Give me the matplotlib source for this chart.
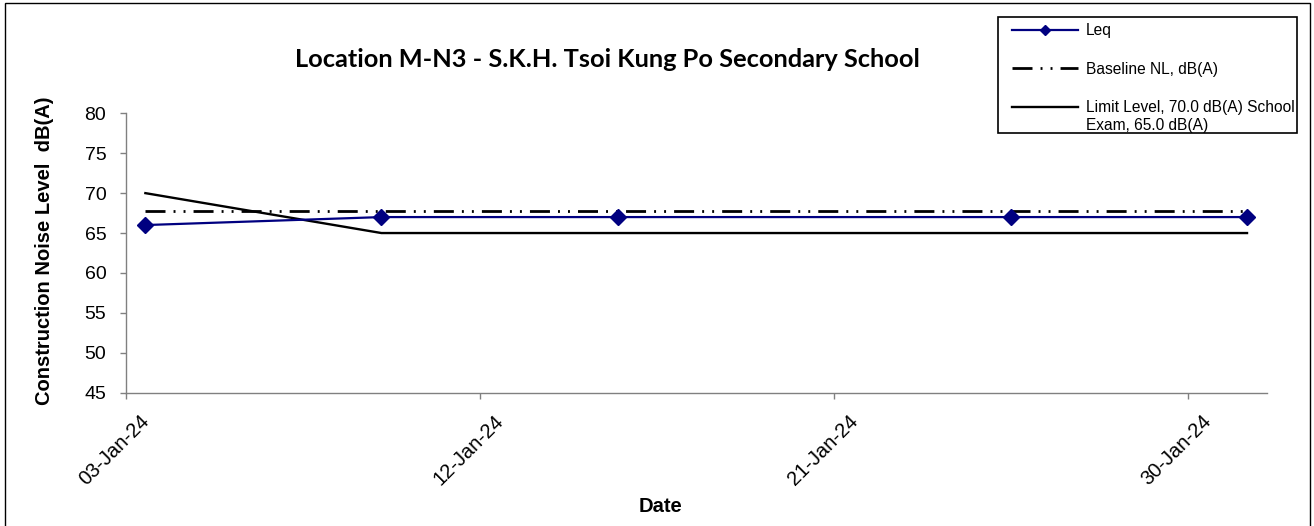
import matplotlib
matplotlib.use('Agg')
import matplotlib.pyplot as plt
import matplotlib.transforms as mtransforms
from matplotlib.patches import Rectangle
from matplotlib.legend_handler import HandlerLine2D
import pandas as pd

# ---- data ----
dates = ['2024-01-03', '2024-01-09', '2024-01-15', '2024-01-25', '2024-01-31']
leq = [66, 67, 67, 67, 67]
baseline = [67.8, 67.8, 67.8, 67.8, 67.8]
limit = [70, 65, 65, 65, 65]
xtick_dates = ['2024-01-03', '2024-01-12', '2024-01-21', '2024-01-30']
yticks = [45, 50, 55, 60, 65, 70, 75, 80]
x_range = ['2024-01-03', '2024-02-01']

title = 'Location M-N3 - S.K.H. Tsoi Kung Po Secondary School'
ylabel = 'Construction Noise Level  dB(A)'
xlabel = 'Date'
labels = ['Leq', 'Baseline NL, dB(A)', 'Limit Level, 70.0 dB(A) School\nExam, 65.0 dB(A)']

plt.rcParams['font.family'] = ['Liberation Sans', 'DejaVu Sans']
plt.rcParams['lines.scale_dashes'] = False

W, H = 1314, 526
fig = plt.figure(figsize=(W / 100, H / 100), dpi=100)
L, R, T, B = 125.7, 1266.7, 113.3, 392.7
ax = fig.add_axes([L / W, 1 - B / H, (R - L) / W, (B - T) / H])

x = pd.to_datetime(dates) + pd.Timedelta(hours=12)

h2, = ax.plot(x, baseline, color='black', lw=2.0, dashes=(14.4, 5.8, 1.4, 5.8, 1.4, 5.8),
              solid_capstyle='butt', dash_capstyle='butt', zorder=2, label=labels[1])
h3, = ax.plot(x, limit, color='black', lw=1.7, zorder=2, label=labels[2])
h1, = ax.plot(x, leq, color='#000080', lw=1.6, marker='D', markersize=8.5,
              markerfacecolor='#000080', markeredgecolor='#000080', zorder=3, label=labels[0])

ax.set_xlim(pd.to_datetime(x_range[0]), pd.to_datetime(x_range[1]))
ax.set_ylim(45, 80)
ax.set_yticks(yticks)
xt = pd.to_datetime(xtick_dates)
ax.set_xticks(xt)
ax.set_xticklabels([d.strftime('%d-%b-%y') for d in xt])

for s in ['top', 'right']:
    ax.spines[s].set_visible(False)
for s in ['left', 'bottom']:
    ax.spines[s].set_color('#808080')
    ax.spines[s].set_linewidth(1.0)
ax.tick_params(axis='both', direction='out', length=4.5, width=1, color='#808080',
               labelcolor='black')
ax.tick_params(axis='y', labelsize=14, pad=9.5)
ax.tick_params(axis='x', labelsize=14.5, pad=3.5)

offset = mtransforms.ScaledTranslation(14 / 100, -8 / 100, fig.dpi_scale_trans)
for lab in ax.get_xticklabels():
    lab.set_rotation(45)
    lab.set_ha('right')
    lab.set_va('top')
    lab.set_rotation_mode('anchor')
    lab.set_transform(lab.get_transform() + offset)

fig.text(607 / W, 1 - 67 / H, title, ha='center', va='baseline', fontsize=18.3,
         fontweight='bold', family=['Lato', 'DejaVu Sans'])
fig.text(45 / W, 1 - 251 / H, ylabel, rotation=90, ha='center', va='center',
         fontsize=14.5, fontweight='bold')
fig.text(661 / W, 1 - 507 / H, xlabel, ha='center', va='center', fontsize=14.5,
         fontweight='bold')


class FirstLineHandler(HandlerLine2D):
    """Place the legend sample level with the first line of a two-line label."""
    def __init__(self, dy_px, **kw):
        super().__init__(**kw)
        self.dy_px = dy_px

    def create_artists(self, legend, orig_handle, xdescent, ydescent, width, height,
                       fontsize, trans):
        arts = super().create_artists(legend, orig_handle, xdescent, ydescent, width,
                                      height, fontsize, trans)
        shifted = trans + mtransforms.Affine2D().translate(0, self.dy_px)
        for a in arts:
            a.set_transform(shifted)
        return arts


fs_leg = 11.2
leg = fig.legend(handles=[h1, h2, h3], labels=labels, loc='upper left',
                 bbox_to_anchor=((1012 - 0.35 * fs_leg * 100 / 72) / W, 1 - 18 / H),
                 fontsize=fs_leg, frameon=False, borderpad=0.35,
                 labelspacing=1.5, handlelength=4.25, handletextpad=0.52,
                 borderaxespad=0, markerscale=0.6,
                 handler_map={h3: FirstLineHandler(10)})

# legend frame (as in the reference, a plain black box)
fig.patches.append(Rectangle((998 / W, 1 - 133 / H), (1297 - 998) / W, (133 - 17) / H,
                             transform=fig.transFigure, fill=False,
                             edgecolor='black', lw=1.2, zorder=5))

# outer chart border
fig.patches.append(Rectangle((5 / W, -0.05), (1310 - 5) / W, 1.05 - 3 / H,
                             transform=fig.transFigure, fill=False,
                             edgecolor='black', lw=1.0))

fig.savefig('out.png', dpi=100)
